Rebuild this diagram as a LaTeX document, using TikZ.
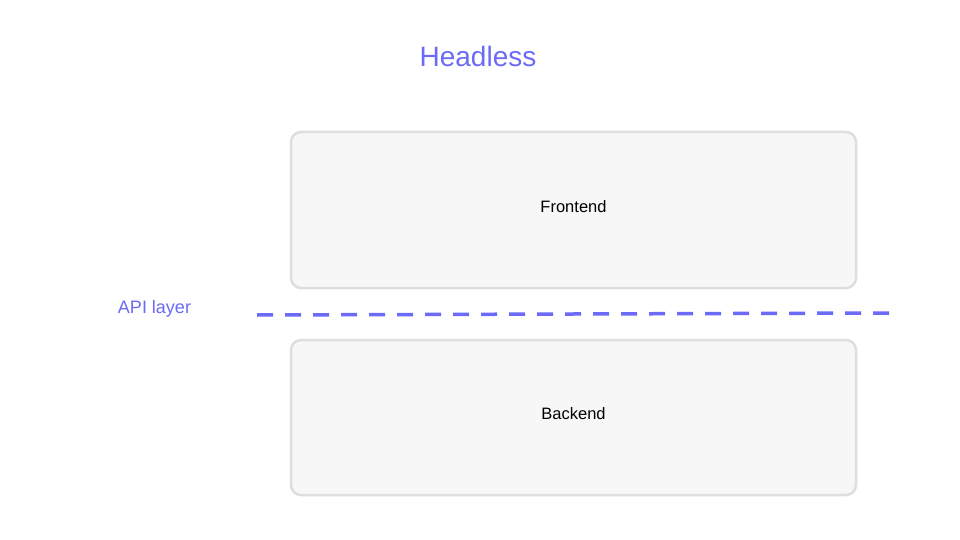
\documentclass[tikz,border=0pt]{standalone}
\usepackage{fontspec}
\setmainfont{Liberation Sans}
\definecolor{accent}{HTML}{6B6BF7}
\definecolor{boxfill}{HTML}{F7F7F7}
\definecolor{boxline}{HTML}{DEDEDE}
\tikzset{
  layerbox/.style={draw=boxline, line width=2.5pt, fill=boxfill, rounded corners=10pt},
  apiline/.style={draw=accent, line width=3.5pt, dash pattern=on 16pt off 12pt},
}
\begin{document}
\begin{tikzpicture}[x=1pt,y=-1pt]
\useasboundingbox[fill=white] (0,0) rectangle (960,540);
\draw[layerbox] (291,132) rectangle (856,288);
\draw[layerbox] (291,340) rectangle (856,495);
\node (front) at (573.5,207) {\fontsize{16.5}{19}\selectfont Frontend};
\node (back) at (573.5,414) {\fontsize{16.5}{19}\selectfont Backend};
\node[text=accent] (title) at (478,56) {\fontsize{28}{33}\selectfont Headless};
\node[text=accent] (api) at (154.5,309) {\fontsize{18}{21}\selectfont API layer};
\coordinate (l1) at (257,315);
\coordinate (l2) at (889,313);
\draw[apiline] (l1) -- (l2);
\end{tikzpicture}
\end{document}
